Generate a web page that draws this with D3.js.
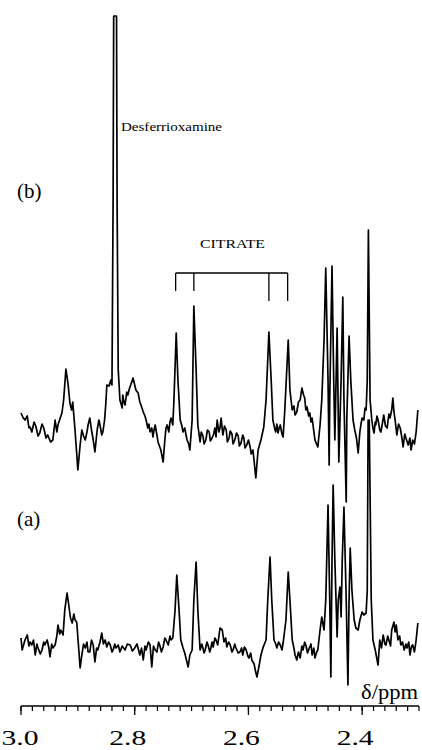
<!DOCTYPE html>
<html>
<head>
<meta charset="utf-8">
<script src="https://cdn.jsdelivr.net/npm/d3@7"></script>
<style>
  body { margin: 0; background: #fff; }
  text { font-family: "Liberation Serif", "DejaVu Serif", serif; fill: #000; }
</style>
</head>
<body>
<svg width="422" height="750"></svg>
<script>
// [chemical shift (ppm), intensity (arbitrary units)] (b)
var traceB = [[3.000,27],[2.996,22],[2.993,20],[2.989,24],[2.986,12],[2.984,13],[2.981,8],[2.977,18],[2.974,14],[2.970,4],
  [2.967,7],[2.963,16],[2.960,12],[2.956,2],[2.953,5],[2.948,-2],[2.944,0],[2.942,10],[2.940,20],[2.937,8],
  [2.935,15],[2.931,22],[2.928,27],[2.925,40],[2.921,71],[2.917,55],[2.914,37],[2.911,30],[2.909,38],[2.905,10],
  [2.900,-30],[2.896,-5],[2.893,10],[2.890,4],[2.887,0],[2.884,8],[2.882,15],[2.879,22],[2.876,10],[2.873,0],
  [2.870,-12],[2.866,10],[2.863,20],[2.861,15],[2.858,5],[2.856,8],[2.853,20],[2.851,35],[2.849,55],[2.845,54],
  [2.842,60],[2.840,55],[2.838,240],[2.837,424],[2.832,424],[2.831,240],[2.829,70],[2.826,40],[2.822,32],[2.821,45],
  [2.819,38],[2.817,35],[2.814,48],[2.812,45],[2.809,52],[2.807,55],[2.803,62],[2.800,55],[2.798,50],[2.794,47],
  [2.791,38],[2.789,35],[2.785,28],[2.782,24],[2.780,20],[2.777,12],[2.775,16],[2.773,8],[2.770,12],[2.768,3],
  [2.766,10],[2.764,15],[2.761,5],[2.759,-2],[2.754,-10],[2.750,-22],[2.747,0],[2.745,12],[2.743,15],[2.740,8],
  [2.738,18],[2.736,22],[2.733,15],[2.731,40],[2.727,107],[2.724,60],[2.720,20],[2.717,14],[2.715,8],[2.712,12],
  [2.708,0],[2.705,-4],[2.703,-10],[2.699,20],[2.696,134],[2.692,70],[2.689,15],[2.685,-2],[2.683,8],[2.680,4],
  [2.678,-4],[2.675,0],[2.672,10],[2.669,8],[2.667,-1],[2.664,2],[2.661,6],[2.659,12],[2.657,3],[2.655,20],
  [2.652,8],[2.650,12],[2.648,22],[2.645,5],[2.642,14],[2.639,10],[2.637,-2],[2.634,2],[2.632,9],[2.629,6],
  [2.627,-4],[2.624,0],[2.621,7],[2.618,4],[2.616,-6],[2.613,-3],[2.610,5],[2.608,2],[2.606,-8],[2.603,-5],
  [2.600,0],[2.597,-7],[2.595,-14],[2.592,-10],[2.587,-38],[2.583,-10],[2.578,0],[2.573,13],[2.569,40],[2.564,108],
  [2.560,60],[2.557,20],[2.554,12],[2.552,8],[2.550,16],[2.548,7],[2.546,12],[2.544,15],[2.541,6],[2.539,3],
  [2.536,30],[2.530,100],[2.527,50],[2.523,30],[2.520,34],[2.518,25],[2.515,28],[2.512,38],[2.509,40],[2.506,52],
  [2.503,45],[2.501,42],[2.499,30],[2.497,33],[2.494,24],[2.492,27],[2.490,18],[2.488,22],[2.483,0],[2.478,-7],
  [2.474,15],[2.471,40],[2.467,100],[2.464,172],[2.460,60],[2.458,-25],[2.457,40],[2.453,174],[2.450,60],[2.448,0],
  [2.444,112],[2.441,-22],[2.437,60],[2.434,143],[2.432,40],[2.428,-62],[2.427,20],[2.423,104],[2.420,60],[2.416,20],
  [2.413,10],[2.410,2],[2.407,-13],[2.404,8],[2.402,16],[2.400,22],[2.397,20],[2.395,32],[2.393,30],[2.391,60],
  [2.389,210],[2.386,40],[2.383,20],[2.381,12],[2.379,7],[2.377,18],[2.376,15],[2.374,24],[2.372,20],[2.369,10],
  [2.367,8],[2.364,18],[2.362,25],[2.359,14],[2.356,12],[2.353,26],[2.351,22],[2.348,30],[2.346,42],[2.344,28],
  [2.342,20],[2.339,5],[2.336,16],[2.333,12],[2.330,2],[2.328,-7],[2.325,6],[2.323,2],[2.319,-5],[2.316,2],
  [2.314,-10],[2.311,0],[2.308,-4],[2.305,8],[2.302,30]];

// same for spectrum (a)
var traceA = [[3.000,12],[2.998,0],[2.995,6],[2.993,10],[2.989,15],[2.986,4],[2.984,8],[2.981,5],[2.978,10],[2.975,-5],
  [2.972,6],[2.970,2],[2.966,-4],[2.963,0],[2.960,8],[2.958,5],[2.954,10],[2.951,2],[2.949,-7],[2.946,6],
  [2.944,2],[2.940,5],[2.937,14],[2.935,25],[2.932,16],[2.930,20],[2.926,15],[2.923,40],[2.919,57],[2.916,45],
  [2.913,32],[2.910,27],[2.907,36],[2.905,30],[2.902,28],[2.899,5],[2.896,-18],[2.893,-5],[2.890,6],[2.887,2],
  [2.884,8],[2.882,-2],[2.879,-2],[2.876,10],[2.873,5],[2.870,-12],[2.867,2],[2.865,0],[2.861,8],[2.858,17],
  [2.855,6],[2.852,10],[2.849,3],[2.846,8],[2.843,5],[2.840,-2],[2.838,0],[2.835,6],[2.833,2],[2.829,5],
  [2.826,-2],[2.822,4],[2.817,0],[2.813,6],[2.808,5],[2.804,-1],[2.800,2],[2.796,6],[2.791,-5],[2.788,2],
  [2.785,-10],[2.782,4],[2.780,0],[2.776,8],[2.773,5],[2.770,-17],[2.767,4],[2.764,0],[2.761,-2],[2.758,8],
  [2.756,5],[2.753,-2],[2.750,3],[2.747,12],[2.745,10],[2.741,5],[2.738,14],[2.736,10],[2.733,12],[2.729,40],
  [2.726,75],[2.722,40],[2.719,10],[2.715,2],[2.712,-3],[2.709,-10],[2.706,-17],[2.703,-5],[2.699,0],[2.696,50],
  [2.692,88],[2.689,40],[2.685,0],[2.682,6],[2.680,2],[2.678,-3],[2.676,0],[2.673,8],[2.671,5],[2.668,-2],
  [2.666,2],[2.664,8],[2.662,3],[2.659,12],[2.657,10],[2.654,5],[2.650,22],[2.646,20],[2.643,8],[2.640,12],
  [2.638,3],[2.635,8],[2.632,5],[2.629,-2],[2.627,0],[2.624,6],[2.622,2],[2.618,-3],[2.615,-2],[2.612,2],
  [2.610,-5],[2.607,3],[2.604,0],[2.601,-6],[2.599,-8],[2.596,-3],[2.594,-10],[2.590,-14],[2.588,-20],[2.585,-27],
  [2.581,-15],[2.578,-5],[2.574,3],[2.569,10],[2.566,50],[2.562,93],[2.559,50],[2.555,10],[2.552,6],[2.550,2],
  [2.547,8],[2.544,5],[2.541,0],[2.539,7],[2.534,30],[2.530,78],[2.527,50],[2.523,10],[2.520,2],[2.518,-5],
  [2.515,-10],[2.512,-2],[2.509,-8],[2.506,4],[2.504,0],[2.501,8],[2.499,5],[2.496,-3],[2.493,2],[2.490,6],
  [2.488,-5],[2.485,2],[2.483,-8],[2.480,-2],[2.478,0],[2.474,20],[2.471,33],[2.467,20],[2.464,50],[2.460,145],
  [2.457,50],[2.455,-27],[2.453,90],[2.451,165],[2.448,90],[2.444,13],[2.442,50],[2.439,63],[2.437,33],[2.435,90],
  [2.432,143],[2.428,50],[2.425,-35],[2.423,50],[2.421,102],[2.418,60],[2.414,30],[2.411,22],[2.407,20],[2.404,30],
  [2.400,38],[2.397,35],[2.393,37],[2.391,60],[2.3895,230],[2.3875,230],[2.384,50],[2.381,10],[2.377,0],[2.372,-15],
  [2.369,10],[2.366,2],[2.363,15],[2.360,6],[2.358,5],[2.355,14],[2.353,10],[2.350,4],[2.348,20],[2.344,28],
  [2.342,18],[2.340,25],[2.337,10],[2.334,14],[2.332,5],[2.329,8],[2.326,0],[2.323,6],[2.321,2],[2.318,8],
  [2.316,-5],[2.313,4],[2.311,5],[2.308,-2],[2.305,10],[2.302,27]];

var citrate = [2.728, 2.696, 2.564, 2.531];
var majorTicks = [3.0, 2.8, 2.6, 2.4];
var tickLabels = ["3.0", "2.8", "2.6", "2.4"];

var svg = d3.select("svg");

var x = d3.scaleLinear().domain([3.0, 2.3]).range([21, 419]);
var yB = d3.scaleLinear().domain([0, 100]).range([440, 340]);
var yA = d3.scaleLinear().domain([0, 100]).range([650, 550]);

var lineB = d3.line().x(function(d) { return x(d[0]); }).y(function(d) { return yB(d[1]); });
var lineA = d3.line().x(function(d) { return x(d[0]); }).y(function(d) { return yA(d[1]); });

svg.append("path")
    .attr("d", lineB(traceB))
    .attr("fill", "none")
    .attr("stroke", "#000")
    .attr("stroke-width", 1.7)
    .attr("stroke-linejoin", "round");

svg.append("path")
    .attr("d", lineA(traceA))
    .attr("fill", "none")
    .attr("stroke", "#000")
    .attr("stroke-width", 1.7)
    .attr("stroke-linejoin", "round");

// citrate bracket
var br = svg.append("g").attr("stroke", "#000").attr("stroke-width", 1.3);
br.append("line")
    .attr("x1", x(citrate[0])).attr("x2", x(citrate[3]))
    .attr("y1", 273).attr("y2", 273);
br.selectAll(".tick")
    .data(citrate)
  .enter().append("line")
    .attr("x1", function(d) { return x(d); })
    .attr("x2", function(d) { return x(d); })
    .attr("y1", 273)
    .attr("y2", function(d, i) { return i < 2 ? 291 : 301; });

svg.append("text")
    .attr("x", 200).attr("y", 248)
    .attr("font-size", 13)
    .attr("textLength", 65).attr("lengthAdjust", "spacingAndGlyphs")
    .text("CITRATE");

svg.append("text")
    .attr("x", 121).attr("y", 131)
    .attr("font-size", 13)
    .attr("textLength", 101).attr("lengthAdjust", "spacingAndGlyphs")
    .text("Desferrioxamine");

svg.append("text").attr("x", 17).attr("y", 198).attr("font-size", 21).text("(b)");
svg.append("text").attr("x", 17).attr("y", 526).attr("font-size", 21).text("(a)");

// axis
var axisY = 706;
var ax = svg.append("g").attr("transform", "translate(0," + axisY + ")");
ax.append("line")
    .attr("x1", x(3.0)).attr("x2", x(2.3))
    .attr("stroke", "#000").attr("stroke-width", 1.3);
ax.selectAll(".minor")
    .data(x.ticks(35))
  .enter().append("line")
    .attr("x1", function(d) { return x(d); })
    .attr("x2", function(d) { return x(d); })
    .attr("y2", 5)
    .attr("stroke", "#000").attr("stroke-width", 1.2);
ax.selectAll(".major")
    .data(majorTicks)
  .enter().append("line")
    .attr("x1", function(d) { return x(d); })
    .attr("x2", function(d) { return x(d); })
    .attr("y2", 9)
    .attr("stroke", "#000").attr("stroke-width", 1.3);
ax.selectAll(".lab")
    .data(majorTicks)
  .enter().append("text")
    .attr("x", function(d) { return x(d) - (d === 3.0 ? 1 : 7); })
    .attr("y", 39)
    .attr("text-anchor", "middle")
    .attr("font-size", 22)
    .attr("textLength", 37).attr("lengthAdjust", "spacingAndGlyphs")
    .text(function(d, i) { return tickLabels[i]; });

svg.append("text")
    .attr("x", 418).attr("y", 699)
    .attr("text-anchor", "end")
    .attr("font-size", 20)
    .attr("textLength", 57).attr("lengthAdjust", "spacingAndGlyphs")
    .text("δ/ppm");
</script>
</body>
</html>
